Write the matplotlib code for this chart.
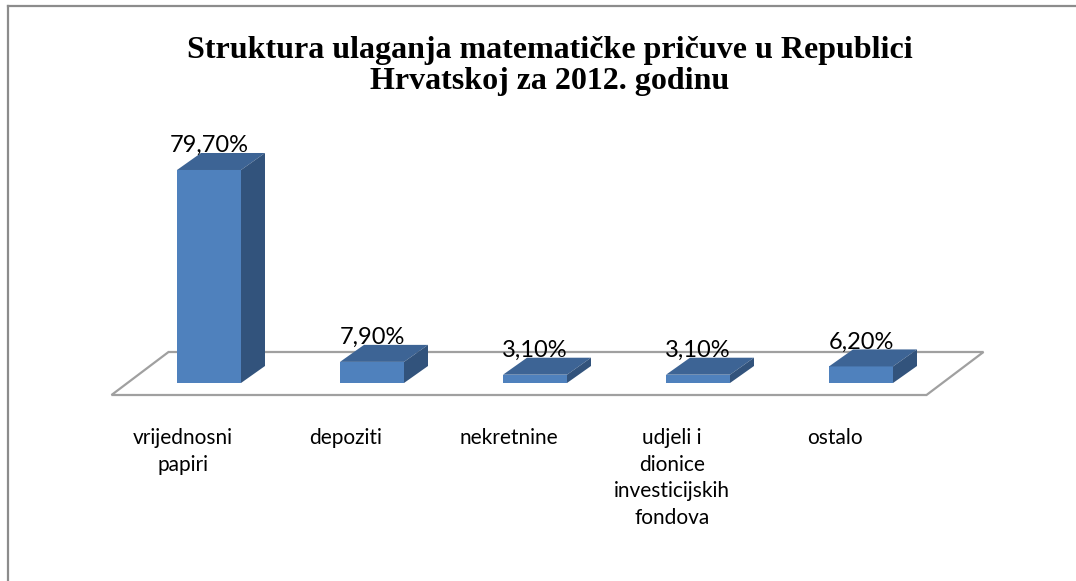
import matplotlib
matplotlib.use("Agg")
import matplotlib.pyplot as plt
from matplotlib.patches import Polygon
from matplotlib.lines import Line2D

categories = ["vrijednosni\npapiri", "depoziti", "nekretnine",
              "udjeli i\ndionice\ninvesticijskih\nfondova", "ostalo"]
values = [79.7, 7.9, 3.1, 3.1, 6.2]
value_labels = ["79,70%", "7,90%", "3,10%", "3,10%", "6,20%"]
title = "Struktura ulaganja matematičke pričuve u Republici\nHrvatskoj za 2012. godinu"

W, H = 1076, 581
DPI = 100

PX_PER_CAT = 163.0
PX_PER_PCT = 2.6726
X0_PX = 209.0          # centre of first bar front face
BASE_PX = 383.0        # baseline (0 %) from top
BAR_W = 64.0 / PX_PER_CAT
BAR_DX, BAR_DY = 24.0 / PX_PER_CAT, 17.0 / PX_PER_PCT
FLOOR_FRONT = (-16.0 / PX_PER_CAT, -12.0 / PX_PER_PCT)
FLOOR_BACK = (41.0 / PX_PER_CAT, 31.0 / PX_PER_PCT)
LABEL_DX = -26.0 / PX_PER_CAT

FRONT = "#4F81BD"
TOP = "#3D6495"
SIDE = "#32537C"

fig = plt.figure(figsize=(W / DPI, H / DPI), dpi=DPI)
ax = fig.add_axes([0, 0, 1, 1])
ax.set_xlim(-X0_PX / PX_PER_CAT, (W - X0_PX) / PX_PER_CAT)
ax.set_ylim(-(H - BASE_PX) / PX_PER_PCT, BASE_PX / PX_PER_PCT)
ax.axis("off")

# floor
n = len(values)
fx0, fx1 = -0.5, n - 0.5
floor = Polygon([(fx0 + FLOOR_FRONT[0], FLOOR_FRONT[1]), (fx1 + FLOOR_FRONT[0], FLOOR_FRONT[1]),
                 (fx1 + FLOOR_BACK[0], FLOOR_BACK[1]), (fx0 + FLOOR_BACK[0], FLOOR_BACK[1])],
                closed=True, facecolor="white", edgecolor="#A0A0A0", lw=1.6)
ax.add_patch(floor)

for i, v in enumerate(values):
    x0, x1 = i - BAR_W / 2, i + BAR_W / 2
    front = Polygon([(x0, 0), (x1, 0), (x1, v), (x0, v)], facecolor=FRONT, edgecolor="none")
    top = Polygon([(x0, v), (x1, v), (x1 + BAR_DX, v + BAR_DY), (x0 + BAR_DX, v + BAR_DY)],
                  facecolor=TOP, edgecolor="none")
    side = Polygon([(x1, 0), (x1 + BAR_DX, BAR_DY), (x1 + BAR_DX, v + BAR_DY), (x1, v)],
                   facecolor=SIDE, edgecolor="none")
    for p in (front, top, side):
        ax.add_patch(p)
    ax.text(i, v + BAR_DY + 0.3, value_labels[i], ha="center", va="baseline",
            fontsize=17, family="Lato", color="black")
    ax.text(i + LABEL_DX, -(428 - BASE_PX) / PX_PER_PCT, categories[i],
            ha="center", va="top", multialignment="center", fontsize=15,
            family="Lato", linespacing=1.42, color="black")

fig.text(550 / W, 1 - 66 / H, title, ha="center", va="center", fontsize=23,
         family="Liberation Serif", weight="bold", linespacing=1.12)

# outer chart border (only top and left visible in the original)
fig.add_artist(Line2D([8 / W, 1], [1 - 6 / H, 1 - 6 / H], color="#8C8C8C", lw=1.6))
fig.add_artist(Line2D([8 / W, 8 / W], [0, 1 - 6 / H], color="#8C8C8C", lw=1.6))

fig.savefig("out.png", dpi=DPI)
